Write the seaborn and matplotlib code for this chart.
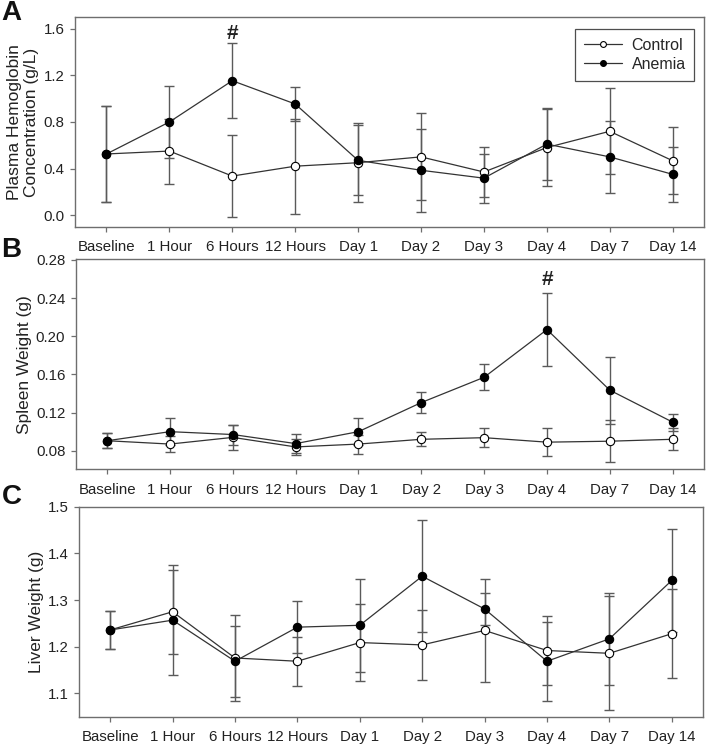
import numpy as np
import pandas as pd
import matplotlib
matplotlib.use("Agg")
import matplotlib.pyplot as plt
import seaborn as sns

timepoints = ["Baseline", "1 Hour", "6 Hours", "12 Hours", "Day 1",
              "Day 2", "Day 3", "Day 4", "Day 7", "Day 14"]

# Panel A: plasma hemoglobin (g/L)
hb_control = [0.525, 0.55, 0.335, 0.42, 0.45, 0.50, 0.37, 0.58, 0.72, 0.467]
hb_control_err = [0.41, 0.28, 0.355, 0.41, 0.34, 0.375, 0.215, 0.33, 0.37, 0.287]
hb_anemia = [0.525, 0.80, 1.155, 0.955, 0.47, 0.385, 0.317, 0.61, 0.50, 0.35]
hb_anemia_err = [0.41, 0.31, 0.32, 0.145, 0.30, 0.357, 0.21, 0.31, 0.31, 0.235]

# Panel B: spleen weight (g)
sp_control = [0.0905, 0.087, 0.094, 0.084, 0.087, 0.092, 0.0937, 0.089, 0.090, 0.092]
sp_control_err = [0.0077, 0.008, 0.013, 0.008, 0.010, 0.0074, 0.010, 0.0146, 0.022, 0.0115]
sp_anemia = [0.0905, 0.100, 0.097, 0.0875, 0.100, 0.1305, 0.157, 0.207, 0.1435, 0.110]
sp_anemia_err = [0.0077, 0.014, 0.0105, 0.010, 0.014, 0.0108, 0.0135, 0.038, 0.035, 0.009]

# Panel C: liver weight (g)
lv_control = [1.236, 1.275, 1.176, 1.169, 1.209, 1.204, 1.235, 1.192, 1.186, 1.228]
lv_control_err = [0.04, 0.09, 0.092, 0.052, 0.083, 0.075, 0.111, 0.073, 0.122, 0.095]
lv_anemia = [1.236, 1.257, 1.169, 1.242, 1.246, 1.351, 1.281, 1.169, 1.217, 1.342]
lv_anemia_err = [0.04, 0.118, 0.076, 0.055, 0.10, 0.12, 0.034, 0.085, 0.099, 0.111]

sns.set_style("ticks")
plt.rcParams['font.family'] = ['Liberation Sans', 'DejaVu Sans']

spine_col = "#6e6e6e"
line_col = "#333333"
err_col = "#5a5a5a"


def draw_panel(ax, control, control_err, anemia, anemia_err, ylim, yticks, yfmt, ylabel):
    x = np.arange(len(timepoints))
    for vals, errs in [(control, control_err), (anemia, anemia_err)]:
        ax.errorbar(x, vals, yerr=errs, fmt="none", ecolor=err_col,
                    elinewidth=1.0, capsize=3.6, capthick=1.0, zorder=2)
    df = pd.DataFrame({
        "x": np.concatenate([x, x]),
        "y": np.concatenate([control, anemia]),
        "group": ["Control"] * len(x) + ["Anemia"] * len(x),
    })
    sns.lineplot(data=df[df.group == "Control"], x="x", y="y", ax=ax,
                 color=line_col, lw=0.9, marker="o", markersize=6,
                 markerfacecolor="white", markeredgecolor="black",
                 markeredgewidth=0.8, label="Control", zorder=3)
    sns.lineplot(data=df[df.group == "Anemia"], x="x", y="y", ax=ax,
                 color=line_col, lw=0.9, marker="o", markersize=6,
                 markerfacecolor="black", markeredgecolor="black",
                 markeredgewidth=0.8, label="Anemia", zorder=4)
    ax.set_xlim(-0.5, 9.5)
    ax.set_ylim(*ylim)
    ax.set_yticks(yticks)
    ax.set_yticklabels([yfmt.format(v) for v in yticks])
    ax.set_xticks(x)
    ax.set_xticklabels(timepoints)
    ax.set_xlabel("")
    ax.set_ylabel(ylabel, fontsize=12.5, color="#222222", labelpad=3)
    ax.tick_params(axis="both", labelsize=10.8, colors="#222222", length=3.5,
                   width=0.9, color=spine_col, pad=4)
    ax.tick_params(axis="x", pad=6)
    for s in ax.spines.values():
        s.set_color(spine_col)
        s.set_linewidth(1.0)
        s.set_visible(True)


fig = plt.figure(figsize=(7.09, 7.45), dpi=100)
axA = fig.add_axes([0.1058, 0.6953, 0.8872, 0.2819])
axB = fig.add_axes([0.1068, 0.3700, 0.8862, 0.2820])
axC = fig.add_axes([0.1114, 0.0372, 0.8801, 0.2827])

draw_panel(axA, hb_control, hb_control_err, hb_anemia, hb_anemia_err,
           (-0.103, 1.703), [0.0, 0.4, 0.8, 1.2, 1.6], "{:.1f}",
           "Plasma Hemoglobin\nConcentration (g/L)")
draw_panel(axB, sp_control, sp_control_err, sp_anemia, sp_anemia_err,
           (0.0605, 0.2807), [0.08, 0.12, 0.16, 0.20, 0.24, 0.28], "{:.2f}",
           "Spleen Weight (g)")
draw_panel(axC, lv_control, lv_control_err, lv_anemia, lv_anemia_err,
           (1.049, 1.5), [1.1, 1.2, 1.3, 1.4, 1.5], "{:.1f}",
           "Liver Weight (g)")

leg = axA.legend(loc="upper right", fontsize=11.5, frameon=True, fancybox=False,
                 edgecolor="#222222", handlelength=2.4, markerscale=0.7,
                 borderpad=0.55, labelspacing=0.25, handletextpad=0.6,
                 bbox_to_anchor=(0.9975, 0.98))
leg.get_frame().set_linewidth(0.9)
for a in (axB, axC):
    a.get_legend().remove()

axA.text(2, 1.565, "#", ha="center", va="center", fontsize=15, fontweight="bold",
         color="#222222")
axB.text(7, 0.259, "#", ha="center", va="center", fontsize=15, fontweight="bold",
         color="#222222")

for letter, ypos in [("A", 0.983), ("B", 0.665), ("C", 0.333)]:
    fig.text(0.002, ypos, letter, fontsize=20, fontweight="bold", ha="left",
             va="center", color="#111111")

fig.savefig("out.png", dpi=100)
